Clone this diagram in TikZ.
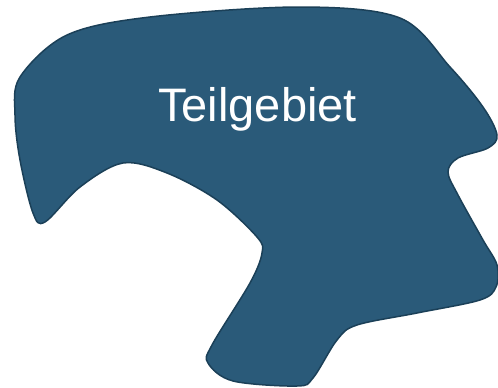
\documentclass[tikz,border=0pt]{standalone}
\usepackage{fontspec}
\setmainfont{Liberation Sans}
\definecolor{regionfill}{HTML}{2A5A79}
\definecolor{regionedge}{HTML}{1B4058}
\tikzset{
  region/.style={fill=regionfill, draw=regionedge, line width=1.5pt, line join=round},
  regionlabel/.style={text=white, font=\fontsize{47}{51}\selectfont, inner sep=0pt, anchor=base}
}
\begin{document}
\begin{tikzpicture}[x=1pt,y=-1pt]
  \useasboundingbox (0,0) rectangle (498,388);
  % irregular subdomain outline
  \draw[region] plot[smooth cycle, tension=0.55] coordinates {
    (300,7) (400,18) (450,67) (483,107) (497,135) (488,148) (458,158)
    (448,172) (458,195) (483,240) (497,265) (496,287) (480,300)
    (417,313) (357,325) (337,340) (313,378) (297,386) (233,381)
    (208,363) (212,345) (250,283) (262,253) (257,237) (217,200)
    (167,173) (123,163) (80,187) (45,222) (33,213) (20,160)
    (15,115) (20,77) (67,35) (150,17)
  };
  \node[regionlabel] (label) at (257.5,121) {Teilgebiet};
\end{tikzpicture}
\end{document}
